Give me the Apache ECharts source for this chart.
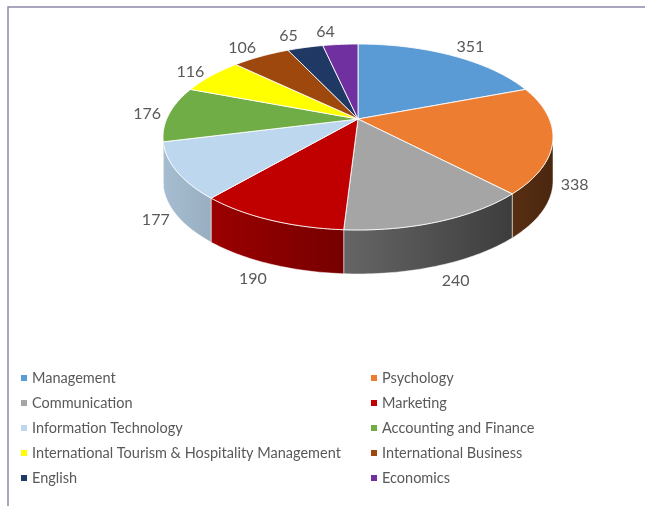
<!DOCTYPE html>
<html>
<head>
<meta charset="utf-8">
<script src="https://cdn.jsdelivr.net/npm/echarts@6/dist/echarts.min.js"></script>
<style>
html,body{margin:0;padding:0;background:#fff}
#main{width:645px;height:506px}
</style>
</head>
<body>
<div id="main"></div>
<script>
var categories = ['Management', 'Psychology', 'Communication', 'Marketing', 'Information Technology',
	'Accounting and Finance', 'International Tourism & Hospitality Management', 'International Business',
	'English', 'Economics'];
var values = [351, 338, 240, 190, 177, 176, 116, 106, 65, 64];
var colors = ['#5B9BD5', '#ED7D31', '#A5A5A5', '#C00000', '#BDD7EE', '#70AD47', '#FFFF00', '#9E480E', '#203864', '#7030A0'];
var leftLegend = ['Management', 'Communication', 'Information Technology', 'International Tourism & Hospitality Management', 'English'];
var rightLegend = ['Psychology', 'Marketing', 'Accounting and Finance', 'International Business', 'Economics'];

var FONT = 'Lato';
var textColor = '#595959';

// tilted disc (excel 3d pie look)
var CX = 358, CY = 119, RX = 191.3, RY = 89.5, PERSP = -0.1935, DEPTH = 44;
var WALL_A = Math.acos(PERSP) * 180 / Math.PI;   // left/right silhouette of the cylinder
var WALL_B = 360 - WALL_A;

var total = 0;
var starts = [];
values.forEach(function(v){ starts.push(total); total += v; });

function proj(r, deg, dz){
	var t = deg * Math.PI / 180;
	var u = r * Math.sin(t), v = -r * Math.cos(t);
	var den = 1 + PERSP * v;
	return [CX + RX * u / den, CY + RY * v / den + (dz || 0)];
}
function arc(a, b, dz){
	var pts = [];
	var n = Math.max(2, Math.ceil((b - a) / 1));
	for (var i = 0; i <= n; i++) pts.push(proj(1, a + (b - a) * i / n, dz));
	return pts;
}
function shade(hex, f){
	var n = parseInt(hex.slice(1), 16);
	var r = Math.round(((n >> 16) & 255) * f), g = Math.round(((n >> 8) & 255) * f), b = Math.round((n & 255) * f);
	return 'rgb(' + r + ',' + g + ',' + b + ')';
}
function light(x){ return 0.86 - 0.00145 * (x - 175); }

function renderSlice(params, api){
	var i = params.seriesIndex;
	var a0 = starts[i] / total * 360;
	var a1 = (starts[i] + values[i]) / total * 360;
	var children = [];
	var lo = Math.max(a0, WALL_A), hi = Math.min(a1, WALL_B);
	if (lo < hi) {
		var wall = arc(lo, hi, 0).concat(arc(lo, hi, DEPTH).reverse());
		children.push({
			type: 'polygon',
			shape: {points: wall},
			style: {
				fill: new echarts.graphic.LinearGradient(163, 0, 553, 0, [
					{offset: 0, color: shade(colors[i], light(163))},
					{offset: 1, color: shade(colors[i], light(553))}
				], true),
				stroke: 'rgba(255,255,255,0.6)',
				lineWidth: 0.8
			}
		});
	}
	var top = [proj(0, 0, 0)].concat(arc(a0, a1, 0));
	children.push({
		type: 'polygon',
		shape: {points: top},
		style: {fill: colors[i], stroke: 'rgba(255,255,255,0.85)', lineWidth: 1}
	});
	// label just outside the rim (below the wall on the front side)
	var mid = (a0 + a1) / 2;
	var t = mid * Math.PI / 180;
	var u = Math.sin(t), v = -Math.cos(t);
	var anchor = proj(1, mid, (mid > WALL_A && mid < WALL_B) ? DEPTH : 0);
	children.push({
		type: 'text',
		x: anchor[0] + (u >= 0 ? 14 : -14) + u * 8,
		y: anchor[1] + v * Math.abs(v) * (v > 0 ? 17 : 12.5),
		style: {
			text: String(values[i]),
			fill: textColor,
			font: '16px ' + FONT,
			align: 'center',
			verticalAlign: 'middle'
		}
	});
	return {type: 'group', children: children};
}

var series = categories.map(function(name, i){
	return {
		type: 'custom',
		name: name,
		coordinateSystem: 'none',
		silent: true,
		itemStyle: {color: colors[i]},
		data: [[values[i]]],
		renderItem: renderSlice
	};
});

function legendCol(left, data){
	return {
		orient: 'vertical',
		left: left,
		top: 370,
		padding: 0,
		icon: 'rect',
		itemWidth: 6,
		itemHeight: 6,
		itemGap: 9,
		selectedMode: false,
		textStyle: {color: textColor, fontFamily: FONT, fontSize: 14.5, lineHeight: 16},
		data: data
	};
}

var option = {
	animation: false,
	backgroundColor: '#fff',
	graphic: [{
		type: 'rect',
		shape: {x: 8, y: 7, width: 700, height: 600},
		style: {fill: 'none', stroke: '#8a89a9', lineWidth: 1.5},
		silent: true
	}],
	legend: [legendCol(21, leftLegend), legendCol(371, rightLegend)],
	series: series
};

var myChart = echarts.init(document.getElementById('main'));
myChart.setOption(option);
</script>
</body>
</html>
